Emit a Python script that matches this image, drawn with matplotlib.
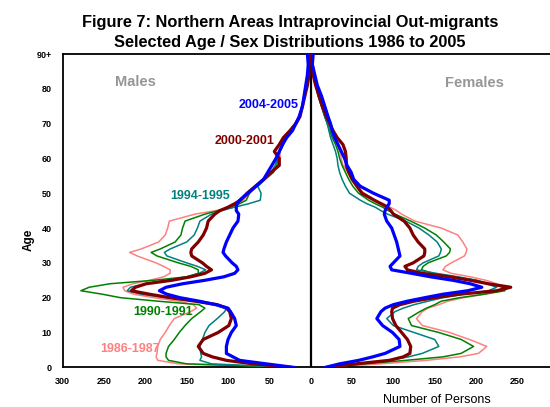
import matplotlib
matplotlib.use("Agg")
import matplotlib.pyplot as plt
import numpy as np

plt.rcParams['font.family'] = ['Liberation Sans', 'DejaVu Sans']

# ---------------- data ----------------
ages = [0, 1, 2, 3, 4, 6, 8, 10, 12, 14, 16, 17, 18, 19, 20, 21, 22, 23, 24, 25,
        26, 27, 28, 29, 30, 32, 33, 34, 36, 38, 40, 42, 44, 45, 46, 47, 48, 50, 52, 54,
        56, 58, 60, 62, 64, 66, 68, 70, 72, 75, 78, 81, 84, 87, 90]

series_names = ["1986-1987", "1990-1991", "1994-1995", "2000-2001", "2004-2005"]

males_1986 = [25, 160, 185, 187, 186, 185, 182, 176, 171, 165, 145, 138, 142, 160, 190,
              214, 225, 227, 215, 195, 178, 170, 170, 178, 187, 210, 219, 205, 184, 176,
              173, 171, 140, 115, 94, 88, 82, 74, 68, 58, 49, 40, 37, 37, 35,
              31, 25, 19, 14, 10, 7, 5, 3, 2, 1]
males_1990 = [25, 150, 172, 175, 175, 172, 165, 159, 152, 144, 133, 128, 135, 185, 230,
              252, 278, 268, 243, 190, 150, 136, 136, 145, 160, 186, 193, 182, 164, 157,
              155, 152, 128, 112, 98, 86, 78, 74, 66, 55, 45, 41, 40, 37, 33,
              30, 25, 19, 14, 10, 7, 5, 3, 2, 1]
males_1994 = [25, 120, 134, 132, 133, 134, 131, 128, 123, 113, 104, 102, 112, 140, 175,
              205, 222, 218, 200, 175, 150, 135, 127, 137, 150, 174, 177, 170, 150, 141,
              137, 134, 120, 108, 92, 75, 61, 60, 64, 55, 48, 43, 40, 38, 35,
              31, 25, 19, 14, 10, 7, 5, 3, 2, 1]
males_2000 = [25, 70, 102, 119, 130, 136, 130, 112, 99, 96, 98, 102, 113, 140, 170,
              195, 217, 212, 199, 168, 145, 128, 120, 126, 131, 144, 145, 144, 136, 130,
              126, 124, 116, 110, 100, 92, 85, 77, 67, 57, 48, 38, 38, 44, 38,
              33, 25, 18, 13, 10, 7, 4, 2, 2, 1]
males_2004 = [21, 54, 86, 94, 102, 102, 100, 96, 90, 92, 97, 100, 115, 135, 158,
              174, 183, 175, 155, 128, 105, 92, 88, 90, 95, 103, 106, 105, 102, 98,
              94, 88, 87, 90, 90, 89, 86, 76, 66, 57, 52, 47, 42, 38, 34,
              29, 22, 18, 14, 10, 8, 6, 4, 3, 4]

females_1986 = [20, 85, 140, 180, 203, 213, 192, 168, 135, 128, 135, 142, 155, 166, 185,
                210, 228, 232, 225, 212, 193, 170, 160, 163, 170, 186, 188, 189, 184, 178,
                158, 126, 110, 104, 96, 88, 78, 65, 55, 50, 45, 39, 37, 35, 32,
                28, 24, 21, 18, 14, 10, 6, 3, 2, 1]
females_1990 = [20, 65, 115, 160, 182, 197, 182, 155, 122, 118, 132, 140, 150, 158, 180,
                210, 235, 233, 215, 201, 175, 148, 134, 136, 142, 164, 168, 169, 161, 152,
                138, 121, 102, 94, 87, 78, 70, 58, 51, 46, 42, 38, 35, 33, 30,
                26, 23, 20, 17, 13, 9, 6, 3, 2, 1]
females_1994 = [20, 60, 95, 118, 135, 155, 150, 125, 100, 92, 102, 112, 125, 142, 160,
                185, 215, 225, 213, 200, 178, 152, 128, 130, 136, 155, 157, 158, 153, 143,
                131, 115, 93, 85, 78, 68, 60, 47, 42, 38, 35, 33, 32, 30, 27,
                24, 22, 20, 17, 13, 9, 6, 3, 2, 1]
females_2000 = [20, 55, 95, 112, 120, 121, 117, 110, 103, 99, 98, 99, 108, 125, 150,
                180, 225, 242, 215, 193, 168, 135, 117, 114, 124, 137, 138, 138, 130, 124,
                120, 113, 100, 97, 93, 85, 77, 62, 56, 50, 46, 43, 43, 42, 39,
                32, 27, 23, 19, 14, 10, 6, 3, 2, 1]
females_2004 = [18, 35, 58, 75, 90, 108, 107, 99, 87, 80, 85, 90, 100, 117, 138,
                160, 190, 207, 193, 172, 145, 122, 98, 96, 100, 108, 107, 106, 104, 101,
                98, 92, 89, 90, 92, 95, 95, 76, 60, 52, 49, 44, 41, 37, 33,
                29, 26, 24, 21, 17, 13, 8, 5, 2, 3]

x_ticks = [-300, -250, -200, -150, -100, -50, 0, 50, 100, 150, 200, 250]
x_tick_labels = ["300", "250", "200", "150", "100", "50", "0", "50", "100", "150", "200", "250"]
y_ticks = [0, 10, 20, 30, 40, 50, 60, 70, 80, 90]
y_tick_labels = ["0", "10", "20", "30", "40", "50", "60", "70", "80", "90+"]

# ---------------- style ----------------
colors = ["#FF8080", "#008000", "#008080", "#800000", "#0000FF"]
widths = [1.1, 1.1, 1.1, 2.3, 2.3]

males = [males_1986, males_1990, males_1994, males_2000, males_2004]
females = [females_1986, females_1990, females_1994, females_2000, females_2004]

fig = plt.figure(figsize=(5.5, 4.07), dpi=100)
fig.patch.set_facecolor("white")
ax = fig.add_axes([0.114, 0.0975, 0.9018, 0.7698])

ax.axvline(0, color="black", lw=1.6, zorder=1)

order = [0, 1, 2, 4, 3]
for i in order:
    ax.plot(-np.array(males[i]), ages, color=colors[i], lw=widths[i], zorder=2 + i,
            solid_joinstyle="round")
    ax.plot(np.array(females[i]), ages, color=colors[i], lw=widths[i], zorder=2 + i,
            solid_joinstyle="round")

ax.set_xlim(-300, 300)
ax.set_ylim(0, 90)
ax.set_xticks(x_ticks)
ax.set_xticklabels(x_tick_labels, fontsize=6.5, fontweight="bold")
ax.set_yticks(y_ticks)
ax.set_yticklabels(y_tick_labels, fontsize=6.5, fontweight="bold")
ax.tick_params(axis="both", length=0)
ax.tick_params(axis="y", pad=8)
ax.tick_params(axis="x", pad=7)
for s in ax.spines.values():
    s.set_linewidth(1.3)
    s.set_color("black")

fig.text(29 / 550, 1 - 240 / 407, "Age", fontsize=8.5, fontweight="bold",
         rotation=90, ha="center", va="center")
fig.text(437 / 550, 1 - 400 / 407, "Number of Persons", fontsize=9,
         ha="center", va="center")

fig.text(290 / 550, 1 - 26.7 / 407,
         "Figure 7: Northern Areas Intraprovincial Out-migrants",
         fontsize=11.8, fontweight="bold", ha="center", va="baseline")
fig.text(290 / 550, 1 - 46.7 / 407,
         "Selected Age / Sex Distributions 1986 to 2005",
         fontsize=11.8, fontweight="bold", ha="center", va="baseline")

ax.text(-212, 82, "Males", color="#969696", fontsize=10.5, fontweight="bold",
        ha="center", va="center")
ax.text(197.5, 81.7, "Females", color="#969696", fontsize=10.5, fontweight="bold",
        ha="center", va="center")

label_pos = [(-218.6, 5.3), (-178, 16.0), (-133.3, 49.3), (-80, 65.1), (-51, 75.4)]
for i in range(5):
    ax.text(label_pos[i][0], label_pos[i][1], series_names[i], color=colors[i],
            fontsize=9, fontweight="bold", ha="center", va="center", zorder=10)

fig.savefig("out.png", dpi=100, facecolor="white")
